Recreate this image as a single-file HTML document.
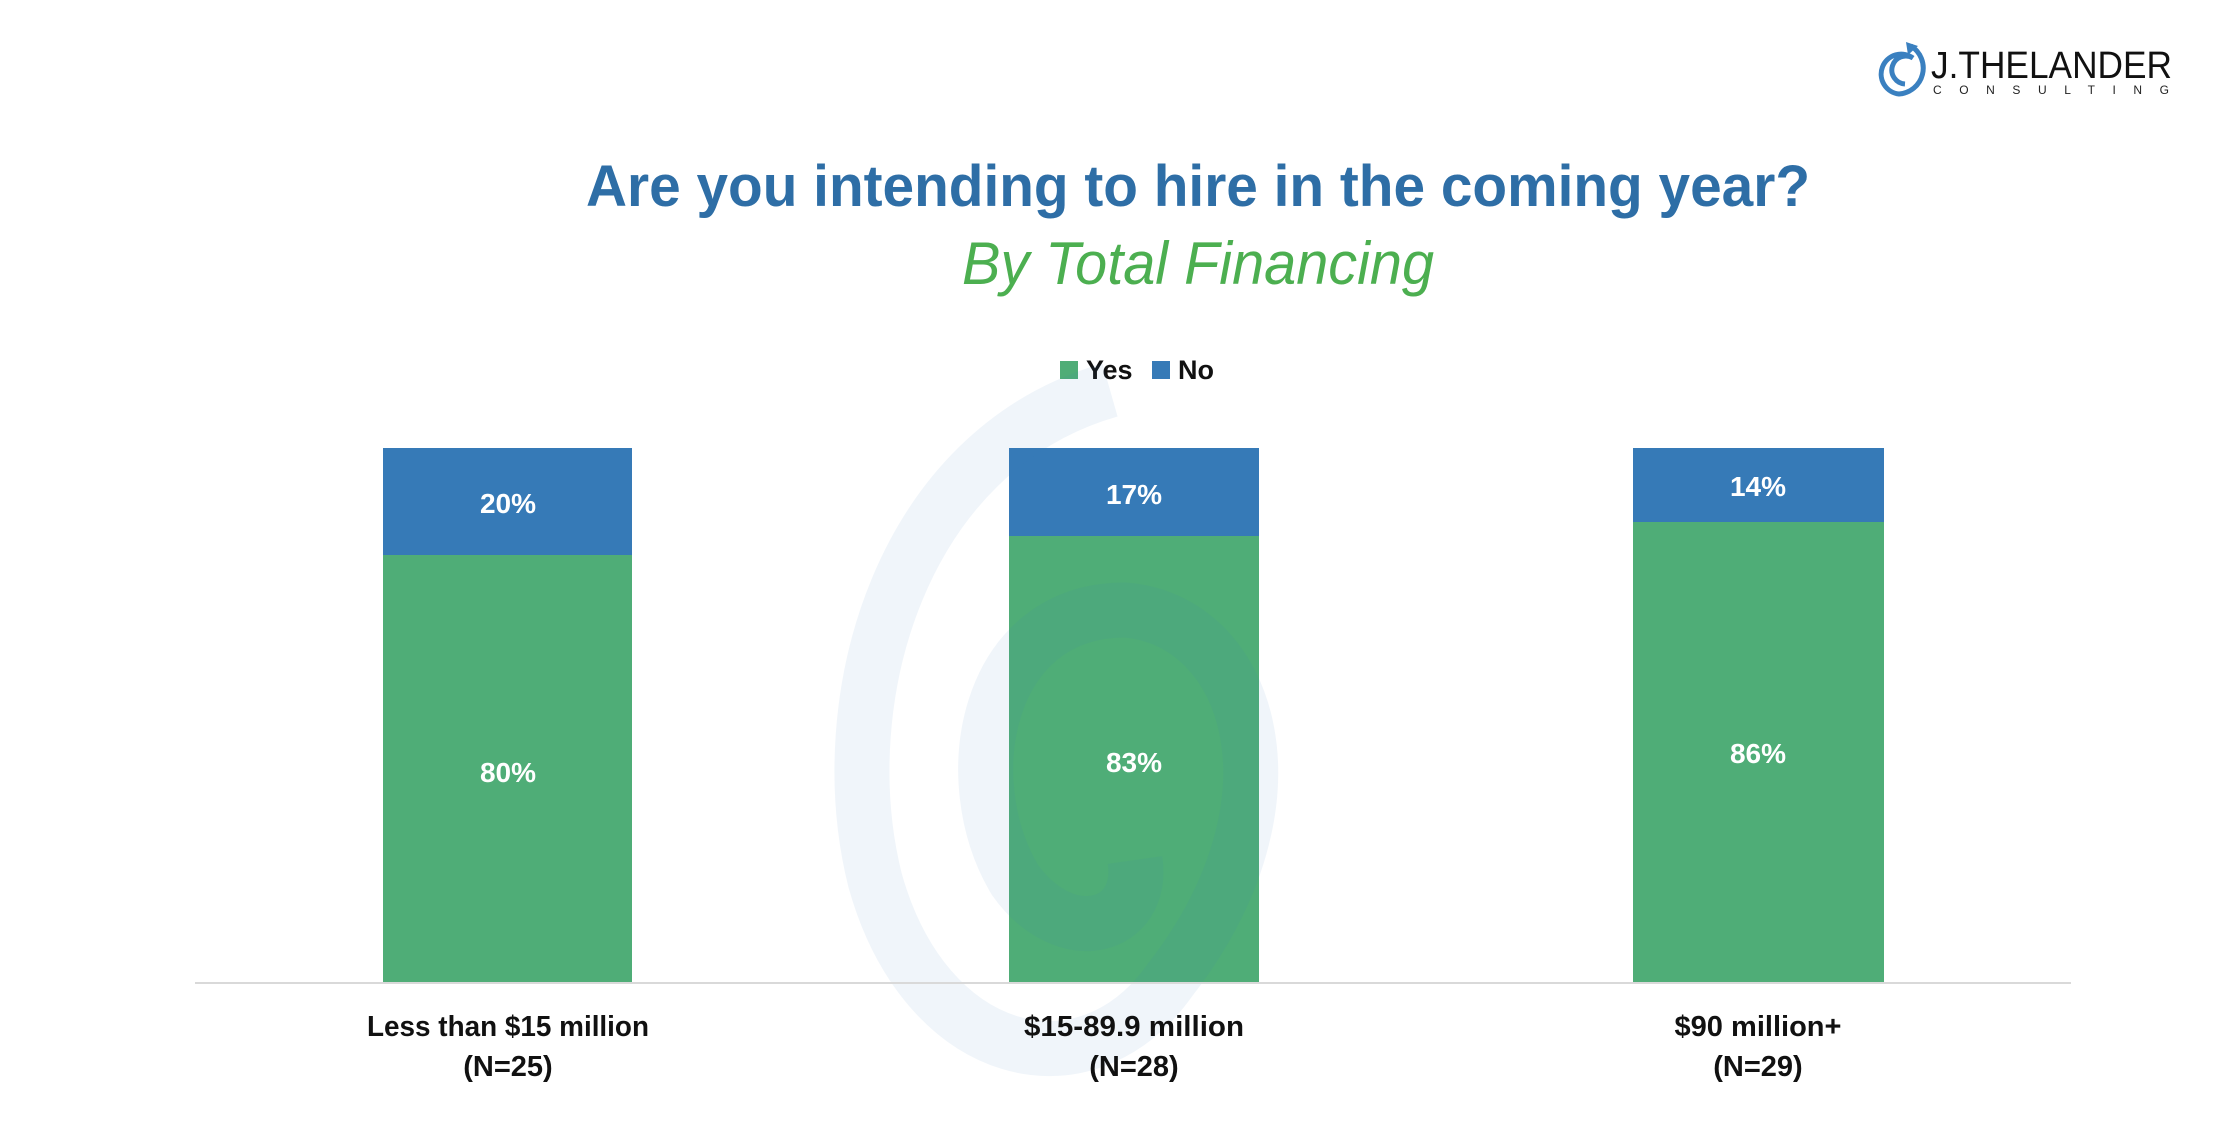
<!DOCTYPE html>
<html><head><meta charset="utf-8"><style>
html,body{margin:0;padding:0;background:#fff;}
svg{display:block}
text{font-family:"Liberation Sans",sans-serif;}
</style></head><body>
<svg width="2230" height="1128" viewBox="0 0 2230 1128" xmlns="http://www.w3.org/2000/svg">
<rect width="2230" height="1128" fill="#fff"/>
<!-- logo -->
<g fill="none" stroke="#3a80c0" stroke-width="5">
<path d="M1905 84 a14 14 0 1 1 8 -26 a20 20 0 1 0 -14 36 a26 26 0 0 0 12 -48"/>
</g>
<path d="M1906 42 l12 4 l-10 9 z" fill="#3a80c0"/>
<text x="1931" y="78" font-size="38" fill="#111" textLength="241" lengthAdjust="spacingAndGlyphs">J.THELANDER</text>
<text x="1933" y="94" font-size="12" fill="#222" textLength="236" lengthAdjust="spacing">CONSULTING</text>
<!-- titles -->
<text x="1198" y="206" text-anchor="middle" font-size="58" font-weight="bold" fill="#2e6ea6" textLength="1224" lengthAdjust="spacingAndGlyphs">Are you intending to hire in the coming year?</text>
<text x="1198" y="284" text-anchor="middle" font-size="60" font-style="italic" fill="#4caf50" textLength="472" lengthAdjust="spacingAndGlyphs">By Total Financing</text>
<!-- legend -->
<rect x="1060" y="361" width="18" height="18" fill="#4fad77"/>
<text x="1086" y="379" font-size="27" font-weight="bold" fill="#111">Yes</text>
<rect x="1152" y="361" width="18" height="18" fill="#367ab7"/>
<text x="1178" y="379" font-size="27" font-weight="bold" fill="#111">No</text>
<!-- bars -->
<rect x="383" y="448" width="249" height="107" fill="#367ab7"/>
<rect x="383" y="555" width="249" height="428" fill="#4fad77"/>
<rect x="1009" y="448" width="250" height="88" fill="#367ab7"/>
<rect x="1009" y="536" width="250" height="447" fill="#4fad77"/>
<rect x="1633" y="448" width="251" height="74" fill="#367ab7"/>
<rect x="1633" y="522" width="251" height="461" fill="#4fad77"/>
<!-- watermark -->
<g fill="none" opacity="0.08">
<path d="M1110 390 C 900 450, 830 700, 875 880 C 925 1060, 1085 1100, 1170 980 C 1310 800, 1250 620, 1125 610 C 985 610, 955 780, 1015 880 C 1065 950, 1145 930, 1135 860" stroke="#3a80c0" stroke-width="55"/>
</g>
<line x1="195" y1="983" x2="2071" y2="983" stroke="#d9d9d9" stroke-width="2"/>
<!-- values -->
<g font-size="28" font-weight="bold" fill="#fff" text-anchor="middle">
<text x="508" y="513">20%</text>
<text x="508" y="782">80%</text>
<text x="1134" y="504">17%</text>
<text x="1134" y="772">83%</text>
<text x="1758" y="496">14%</text>
<text x="1758" y="763">86%</text>
</g>
<!-- categories -->
<g font-size="29" font-weight="bold" fill="#111" text-anchor="middle">
<text x="508" y="1036" textLength="282" lengthAdjust="spacingAndGlyphs">Less than $15 million</text>
<text x="508" y="1076">(N=25)</text>
<text x="1134" y="1036" textLength="220" lengthAdjust="spacingAndGlyphs">$15-89.9 million</text>
<text x="1134" y="1076">(N=28)</text>
<text x="1758" y="1036" textLength="167" lengthAdjust="spacingAndGlyphs">$90 million+</text>
<text x="1758" y="1076">(N=29)</text>
</g>
</svg>
</body></html>
